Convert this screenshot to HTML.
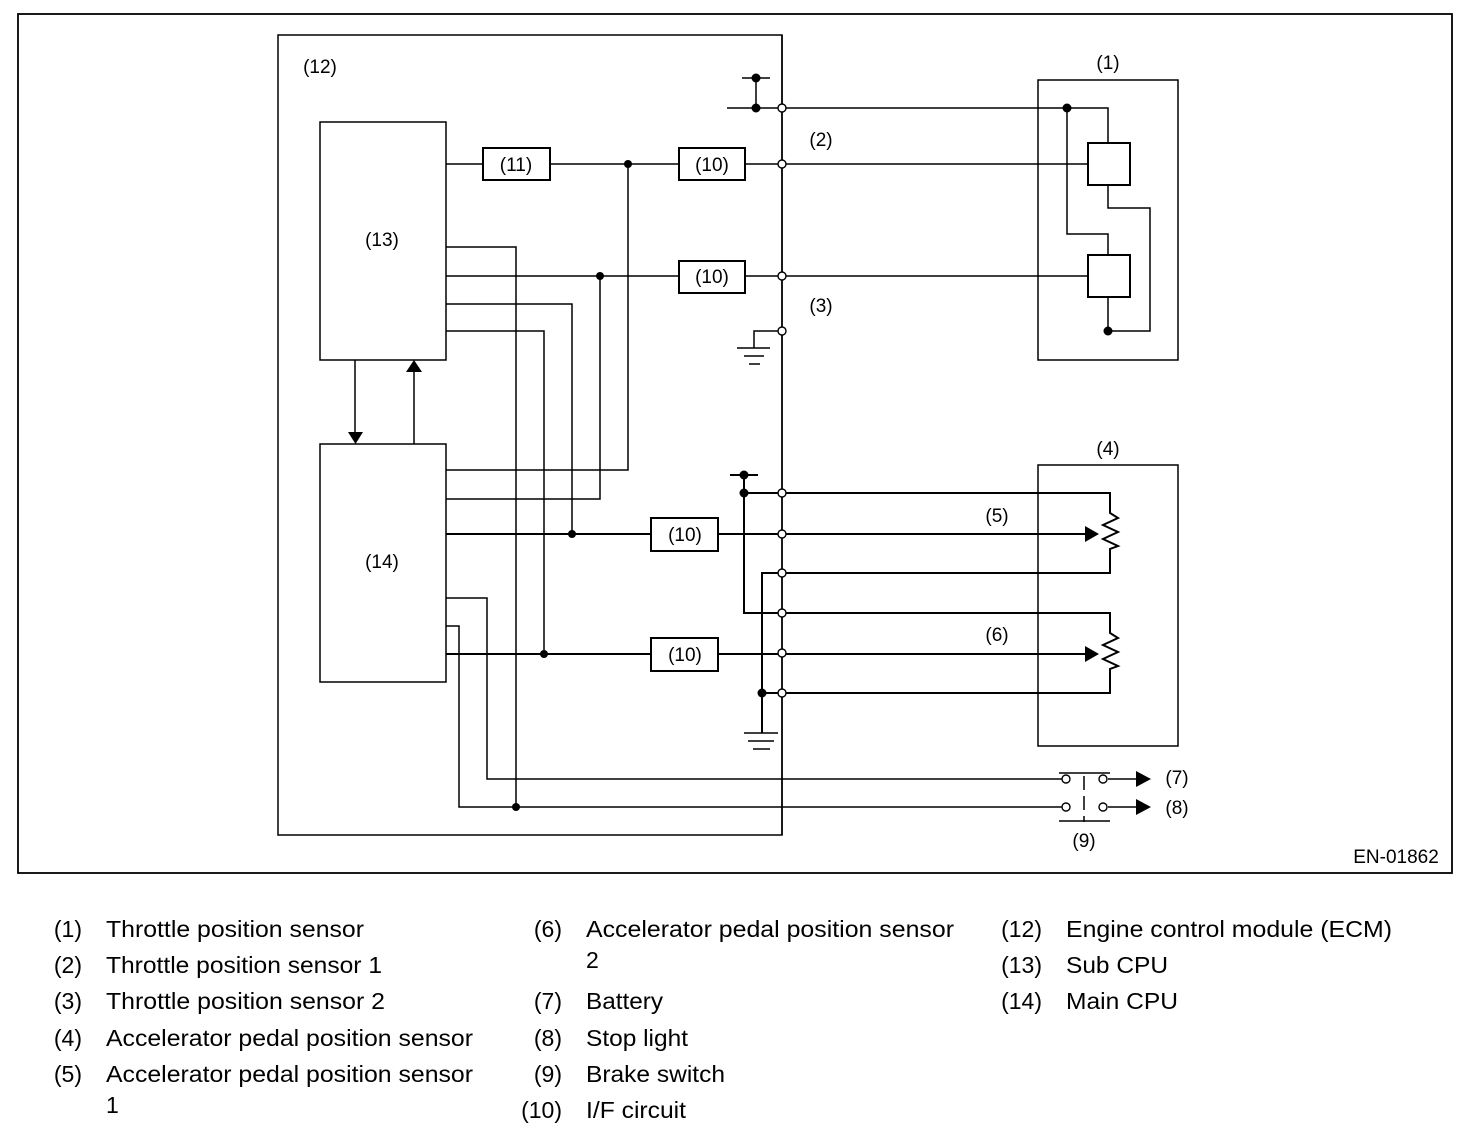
<!DOCTYPE html>
<html><head><meta charset="utf-8"><style>
html,body{margin:0;padding:0;background:#fff;}
svg{display:block;}
text{font-family:"Liberation Sans",Arial,sans-serif;fill:#000;}
</style></head><body>
<svg width="1472" height="1148" viewBox="0 0 1472 1148" xmlns="http://www.w3.org/2000/svg">
<g fill="none" stroke="#000" stroke-width="1.5">
<rect x="18" y="14" width="1434" height="859" stroke-width="1.8"/>
<rect x="278" y="35" width="504" height="800"/>
<rect x="320" y="122" width="126" height="238"/>
<rect x="320" y="444" width="126" height="238"/>
<rect x="483" y="148" width="67" height="32" stroke-width="2"/>
<rect x="679" y="148" width="66" height="32" stroke-width="2"/>
<rect x="679" y="261" width="66" height="32" stroke-width="2"/>
<rect x="651" y="518" width="67" height="33" stroke-width="2"/>
<rect x="651" y="638" width="67" height="33" stroke-width="2"/>
<rect x="1038" y="80" width="140" height="280"/>
<rect x="1038" y="465" width="140" height="281"/>
<rect x="1088" y="143" width="42" height="42" stroke-width="2"/>
<rect x="1088" y="255" width="42" height="42" stroke-width="2"/>
<path d="M742 78H770M756 78V108M727 108H1108V143M1067 108V234H1108V255M1108 185V208H1150V331H1108M1108 297V331M782 331H754V348M737 348H770M744 356H764M749 364H760"/>
<path d="M446 164H483M550 164H679M745 164H1088M628 164V470H446M446 247H516V807M446 276H679M745 276H1088M600 276V499H446M446 304H572V534M446 331H544V654M446 598H487V779H1066M446 626H459V807H1066"/>
<path d="M355 360V432M414 444V372"/>
<g stroke-width="2">
<path d="M446 534H651M446 654H651"/>
<path d="M730 475H758M744 475V613H1110V633l8 5-15 7 15 7-15 7 15 7-8 3V693H762V733M744 493H1110V513l8 5-15 7 15 7-15 7 15 7-8 3V573H762V693"/>
<path d="M718 534H1090M718 654H1090"/>
<path d="M744 733H778M748 741H774M753 749H770" stroke-width="1.5"/>
</g>
<path d="M782 35V835" stroke-width="1.6"/>
<path d="M1059 773H1110M1059 821H1110M1108 779H1136M1108 807H1136"/>
<path d="M1084 776V790M1084 796V810M1084 816V822" />
</g>
<g fill="#000">
<circle cx="756" cy="78" r="4.5"/><circle cx="756" cy="108" r="4.5"/>
<circle cx="1067" cy="108" r="4.5"/><circle cx="1108" cy="331" r="4.5"/>
<circle cx="628" cy="164" r="4"/><circle cx="600" cy="276" r="4"/>
<circle cx="572" cy="534" r="4"/><circle cx="544" cy="654" r="4"/>
<circle cx="516" cy="807" r="4"/>
<circle cx="744" cy="475" r="4.5"/><circle cx="744" cy="493" r="4.5"/>
<circle cx="762" cy="693" r="4.5"/>
<path d="M348 432h15l-7.5 12z"/><path d="M406 372h16l-8-12z"/>
<path d="M1085 526l14 8-14 8z"/><path d="M1085 646l14 8-14 8z"/>
<path d="M1136 771l15 8-15 8z"/><path d="M1136 799l15 8-15 8z"/>
</g>
<g fill="#fff" stroke="#000" stroke-width="1.4">
<circle cx="782" cy="108" r="4"/><circle cx="782" cy="164" r="4"/>
<circle cx="782" cy="276" r="4"/><circle cx="782" cy="331" r="4"/>
<circle cx="782" cy="493" r="4"/><circle cx="782" cy="534" r="4"/>
<circle cx="782" cy="573" r="4"/><circle cx="782" cy="613" r="4"/>
<circle cx="782" cy="653" r="4"/><circle cx="782" cy="693" r="4"/>
<circle cx="1066" cy="779" r="4"/><circle cx="1103" cy="779" r="4"/>
<circle cx="1066" cy="807" r="4"/><circle cx="1103" cy="807" r="4"/>
</g>
<g font-size="19" text-anchor="middle">
<text x="320" y="73">(12)</text>
<text x="382" y="246">(13)</text>
<text x="382" y="568">(14)</text>
<text x="516" y="171">(11)</text>
<text x="712" y="171">(10)</text>
<text x="712" y="283">(10)</text>
<text x="685" y="541">(10)</text>
<text x="685" y="661">(10)</text>
<text x="1108" y="69">(1)</text>
<text x="821" y="146">(2)</text>
<text x="821" y="312">(3)</text>
<text x="1108" y="455">(4)</text>
<text x="997" y="522">(5)</text>
<text x="997" y="641">(6)</text>
<text x="1177" y="784">(7)</text>
<text x="1177" y="814">(8)</text>
<text x="1084" y="847">(9)</text>
<text x="1396" y="863">EN-01862</text>
</g>
<g font-size="23">
<g text-anchor="end">
<text x="82" y="937">(1)</text><text x="82" y="973">(2)</text><text x="82" y="1009">(3)</text><text x="82" y="1046">(4)</text><text x="82" y="1082">(5)</text>
<text x="562" y="937">(6)</text><text x="562" y="1009">(7)</text><text x="562" y="1046">(8)</text><text x="562" y="1082">(9)</text><text x="562" y="1118">(10)</text>
<text x="1042" y="937">(12)</text><text x="1042" y="973">(13)</text><text x="1042" y="1009">(14)</text>
</g>
<text x="106" y="937" textLength="258" lengthAdjust="spacingAndGlyphs">Throttle position sensor</text>
<text x="106" y="973" textLength="276" lengthAdjust="spacingAndGlyphs">Throttle position sensor 1</text>
<text x="106" y="1009" textLength="279" lengthAdjust="spacingAndGlyphs">Throttle position sensor 2</text>
<text x="106" y="1046" textLength="367" lengthAdjust="spacingAndGlyphs">Accelerator pedal position sensor</text>
<text x="106" y="1082" textLength="367" lengthAdjust="spacingAndGlyphs">Accelerator pedal position sensor</text>
<text x="106" y="1113">1</text>
<text x="586" y="937" textLength="368" lengthAdjust="spacingAndGlyphs">Accelerator pedal position sensor</text>
<text x="586" y="968">2</text>
<text x="586" y="1009" textLength="77" lengthAdjust="spacingAndGlyphs">Battery</text>
<text x="586" y="1046" textLength="102" lengthAdjust="spacingAndGlyphs">Stop light</text>
<text x="586" y="1082" textLength="139" lengthAdjust="spacingAndGlyphs">Brake switch</text>
<text x="586" y="1118" textLength="100" lengthAdjust="spacingAndGlyphs">I/F circuit</text>
<text x="1066" y="937" textLength="326" lengthAdjust="spacingAndGlyphs">Engine control module (ECM)</text>
<text x="1066" y="973" textLength="102" lengthAdjust="spacingAndGlyphs">Sub CPU</text>
<text x="1066" y="1009" textLength="112" lengthAdjust="spacingAndGlyphs">Main CPU</text>
</g>
</svg>
</body></html>
